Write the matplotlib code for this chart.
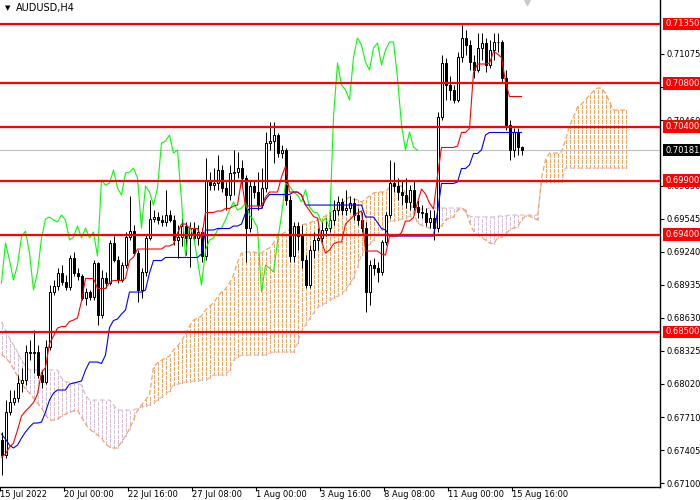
import matplotlib.pyplot as plt
import matplotlib.transforms as mtransforms
from matplotlib.collections import LineCollection
import numpy as np
import pandas as pd

# H4 candles, one per bar (oldest first)
opens = [0.67498, 0.67359, 0.67757, 0.67850, 0.67887, 0.68025, 0.68053, 0.68313, 0.68303, 0.68313,
         0.68100, 0.68035, 0.68359, 0.68868, 0.68924, 0.69044, 0.68961, 0.68914, 0.69183, 0.69044,
         0.69016, 0.68813, 0.68868, 0.68822, 0.69137, 0.68655, 0.68998, 0.68951, 0.69322, 0.69164,
         0.68979, 0.69118, 0.69377, 0.69433, 0.69229, 0.68887, 0.69053, 0.69368, 0.69544, 0.69563,
         0.69535, 0.69516, 0.69581, 0.69535, 0.69350, 0.69377, 0.69479, 0.69368, 0.69461, 0.69368,
         0.69424, 0.69201, 0.69905, 0.69859, 0.69877, 0.69998, 0.69831, 0.69766, 0.69970, 0.69979,
         0.70016, 0.69924, 0.69461, 0.69850, 0.69794, 0.69674, 0.69831, 0.70248, 0.70266, 0.70322,
         0.70155, 0.70183, 0.69720, 0.69201, 0.69479, 0.69387, 0.69164, 0.68933, 0.69257, 0.69350,
         0.69368, 0.69442, 0.69461, 0.69535, 0.69627, 0.69702, 0.69627, 0.69646, 0.69692, 0.69581,
         0.69535, 0.69461, 0.68868, 0.69118, 0.69090, 0.69053, 0.69331, 0.69581, 0.69877, 0.69850,
         0.69794, 0.69766, 0.69702, 0.69813, 0.69655, 0.69609, 0.69600, 0.69516, 0.69553, 0.69461,
         0.70489, 0.70989, 0.70785, 0.70739, 0.70646, 0.71044, 0.71220, 0.71155, 0.70998, 0.70924,
         0.71128, 0.71174, 0.70970, 0.71109, 0.71183, 0.71183, 0.70850, 0.70415, 0.70183, 0.70350,
         0.70211]
highs = [0.67572, 0.67868, 0.67961, 0.67961, 0.68100, 0.68164, 0.68377, 0.68424, 0.68516, 0.68377,
         0.68146, 0.68424, 0.68933, 0.68979, 0.69090, 0.69118, 0.69026, 0.69211, 0.69239, 0.69090,
         0.69035, 0.68905, 0.68887, 0.69164, 0.69146, 0.69072, 0.69053, 0.69350, 0.69387, 0.69201,
         0.69146, 0.69424, 0.69757, 0.69489, 0.69257, 0.69090, 0.69396, 0.69720, 0.69627, 0.69609,
         0.69581, 0.69813, 0.69627, 0.69581, 0.69489, 0.69553, 0.69516, 0.69516, 0.69516, 0.69489,
         0.69461, 0.70109, 0.69979, 0.70016, 0.70137, 0.70044, 0.69887, 0.70044, 0.70183, 0.70165,
         0.70090, 0.69952, 0.69905, 0.69905, 0.69979, 0.70016, 0.70350, 0.70442, 0.70442, 0.70340,
         0.70229, 0.70202, 0.69766, 0.69516, 0.69516, 0.69489, 0.69211, 0.69303, 0.69424, 0.69461,
         0.69516, 0.69553, 0.69609, 0.69720, 0.69757, 0.69739, 0.69813, 0.69757, 0.69739, 0.69646,
         0.69609, 0.69516, 0.69164, 0.69183, 0.69146, 0.69350, 0.69609, 0.70090, 0.70072, 0.69924,
         0.69905, 0.69924, 0.69859, 0.69905, 0.69720, 0.69674, 0.69646, 0.69627, 0.69627, 0.70535,
         0.71063, 0.71035, 0.70868, 0.70785, 0.71091, 0.71341, 0.71294, 0.71202, 0.71063, 0.71266,
         0.71266, 0.71220, 0.71202, 0.71266, 0.71266, 0.71202, 0.70924, 0.70461, 0.70387, 0.70387,
         0.70220]
lows = [0.67174, 0.67331, 0.67729, 0.67822, 0.67850, 0.67942, 0.68007, 0.68238, 0.68118, 0.68072,
        0.67979, 0.68016, 0.68331, 0.68840, 0.68887, 0.68933, 0.68887, 0.68887, 0.69016, 0.68979,
        0.68794, 0.68748, 0.68794, 0.68794, 0.68563, 0.68627, 0.68905, 0.68933, 0.69146, 0.68951,
        0.68961, 0.69090, 0.69350, 0.69211, 0.68776, 0.68813, 0.69016, 0.69350, 0.69516, 0.69498,
        0.69479, 0.69479, 0.69516, 0.69303, 0.69183, 0.69294, 0.69211, 0.69100, 0.69331, 0.69303,
        0.69146, 0.69164, 0.69813, 0.69813, 0.69813, 0.69794, 0.69627, 0.69720, 0.69766, 0.69924,
        0.69859, 0.69146, 0.69424, 0.69739, 0.69627, 0.69646, 0.69794, 0.70183, 0.70063, 0.70118,
        0.70109, 0.69674, 0.69146, 0.69146, 0.69257, 0.69090, 0.68905, 0.68905, 0.69183, 0.69257,
        0.69331, 0.69387, 0.69424, 0.69489, 0.69581, 0.69581, 0.69581, 0.69609, 0.69535, 0.69489,
        0.69424, 0.68683, 0.68748, 0.69026, 0.68961, 0.69026, 0.69303, 0.69553, 0.69794, 0.69720,
        0.69674, 0.69646, 0.69627, 0.69627, 0.69553, 0.69553, 0.69479, 0.69461, 0.69350, 0.69424,
        0.70461, 0.70646, 0.70646, 0.70618, 0.70628, 0.70998, 0.71063, 0.70924, 0.70850, 0.70905,
        0.71016, 0.70905, 0.70942, 0.71016, 0.71091, 0.70813, 0.70368, 0.70090, 0.70118, 0.70137,
        0.70137]
closes = [0.67359, 0.67757, 0.67850, 0.67887, 0.68025, 0.68053, 0.68313, 0.68303, 0.68313, 0.68100,
          0.68035, 0.68359, 0.68868, 0.68924, 0.69044, 0.68961, 0.68914, 0.69183, 0.69044, 0.69016,
          0.68813, 0.68868, 0.68822, 0.69137, 0.68655, 0.68998, 0.68951, 0.69322, 0.69164, 0.68979,
          0.69118, 0.69377, 0.69433, 0.69229, 0.68887, 0.69053, 0.69368, 0.69544, 0.69563, 0.69535,
          0.69516, 0.69581, 0.69535, 0.69350, 0.69377, 0.69479, 0.69368, 0.69461, 0.69368, 0.69424,
          0.69201, 0.69905, 0.69859, 0.69877, 0.69998, 0.69831, 0.69766, 0.69970, 0.69979, 0.70016,
          0.69924, 0.69461, 0.69850, 0.69794, 0.69674, 0.69831, 0.70248, 0.70266, 0.70322, 0.70155,
          0.70183, 0.69720, 0.69201, 0.69479, 0.69387, 0.69164, 0.68933, 0.69257, 0.69350, 0.69368,
          0.69442, 0.69461, 0.69535, 0.69627, 0.69702, 0.69627, 0.69646, 0.69692, 0.69581, 0.69535,
          0.69461, 0.68868, 0.69118, 0.69090, 0.69053, 0.69331, 0.69581, 0.69877, 0.69850, 0.69794,
          0.69766, 0.69702, 0.69813, 0.69655, 0.69609, 0.69600, 0.69516, 0.69553, 0.69461, 0.70489,
          0.70989, 0.70785, 0.70739, 0.70646, 0.71044, 0.71220, 0.71155, 0.70998, 0.70924, 0.71128,
          0.71174, 0.70970, 0.71109, 0.71183, 0.71183, 0.70850, 0.70415, 0.70183, 0.70350, 0.70211,
          0.70181]

# first bars of tenkan / kijun (their windows reach before the visible data)
tenkan_head = [0.67340, 0.67368, 0.67433, 0.67470, 0.67590, 0.67720, 0.67766, 0.67803]
kijun_head = [0.67553, 0.67507, 0.67451, 0.67424, 0.67451, 0.67516, 0.67572, 0.67618, 0.67655,
              0.67655, 0.67664, 0.67757, 0.67868, 0.67933, 0.67961, 0.67961, 0.67961, 0.68016,
              0.68025, 0.68035, 0.68044, 0.68146, 0.68220, 0.68220, 0.68220]

# Ichimoku cloud spans as drawn (already shifted 26 bars ahead)
span_a = [0.68294, 0.68257, 0.68220, 0.68155, 0.68090, 0.68025, 0.67970, 0.67933, 0.67887, 0.67840,
          0.67794, 0.67729, 0.67683, 0.67683, 0.67692, 0.67720, 0.67738, 0.67757, 0.67766, 0.67775,
          0.67711, 0.67646, 0.67600, 0.67572, 0.67544, 0.67516, 0.67461, 0.67433, 0.67424, 0.67424,
          0.67479, 0.67535, 0.67600, 0.67683, 0.67775, 0.67822, 0.67868, 0.67914, 0.68174, 0.68211,
          0.68238, 0.68257, 0.68275, 0.68331, 0.68368, 0.68414, 0.68479, 0.68553, 0.68609, 0.68627,
          0.68646, 0.68701, 0.68738, 0.68766, 0.68822, 0.68868, 0.68896, 0.68951, 0.69026, 0.69146,
          0.69229, 0.69239, 0.69239, 0.69239, 0.69229, 0.69229, 0.69257, 0.69276, 0.69322, 0.69387,
          0.69405, 0.69424, 0.69442, 0.69461, 0.69470, 0.69489, 0.69498, 0.69507, 0.69526, 0.69535,
          0.69553, 0.69572, 0.69600, 0.69618, 0.69646, 0.69683, 0.69720, 0.69748, 0.69729, 0.69720,
          0.69702, 0.69729, 0.69757, 0.69785, 0.69794, 0.69794, 0.69794, 0.69840, 0.69859, 0.69859,
          0.69850, 0.69785, 0.69720, 0.69609, 0.69507, 0.69489, 0.69470, 0.69461, 0.69461, 0.69470,
          0.69479, 0.69535, 0.69553, 0.69563, 0.69627, 0.69646, 0.69627, 0.69516, 0.69433, 0.69396,
          0.69377, 0.69350, 0.69322, 0.69313, 0.69368, 0.69377, 0.69405, 0.69442, 0.69461, 0.69470,
          0.69535, 0.69572, 0.69572, 0.69553, 0.69535, 0.69924, 0.70090, 0.70155, 0.70155, 0.70155,
          0.70165, 0.70276, 0.70405, 0.70489, 0.70581, 0.70609, 0.70646, 0.70692, 0.70729, 0.70757,
          0.70757, 0.70711, 0.70628, 0.70553, 0.70553, 0.70553, 0.70553]
span_b = [0.68590, 0.68516, 0.68442, 0.68377, 0.68313, 0.68238, 0.68183, 0.68146, 0.68146, 0.68146,
          0.68146, 0.68146, 0.68146, 0.68146, 0.68146, 0.68072, 0.68035, 0.68035, 0.68025, 0.68025,
          0.68007, 0.67914, 0.67868, 0.67868, 0.67868, 0.67868, 0.67868, 0.67868, 0.67822, 0.67775,
          0.67775, 0.67775, 0.67775, 0.67775, 0.67794, 0.67803, 0.67812, 0.67822, 0.67840, 0.67868,
          0.67896, 0.67924, 0.67951, 0.68007, 0.68016, 0.68025, 0.68035, 0.68035, 0.68044, 0.68044,
          0.68053, 0.68053, 0.68072, 0.68100, 0.68100, 0.68100, 0.68100, 0.68146, 0.68238, 0.68266,
          0.68285, 0.68285, 0.68285, 0.68285, 0.68285, 0.68285, 0.68285, 0.68303, 0.68313, 0.68313,
          0.68313, 0.68313, 0.68313, 0.68313, 0.68396, 0.68507, 0.68563, 0.68618, 0.68674, 0.68729,
          0.68748, 0.68766, 0.68794, 0.68813, 0.68831, 0.68850, 0.68887, 0.68942, 0.68998, 0.69100,
          0.69211, 0.69276, 0.69313, 0.69350, 0.69396, 0.69442, 0.69498, 0.69526, 0.69526, 0.69535,
          0.69544, 0.69553, 0.69572, 0.69600, 0.69627, 0.69637, 0.69637, 0.69646, 0.69646, 0.69646,
          0.69646, 0.69646, 0.69646, 0.69646, 0.69646, 0.69646, 0.69609, 0.69572, 0.69563, 0.69563,
          0.69563, 0.69563, 0.69563, 0.69563, 0.69572, 0.69572, 0.69572, 0.69581, 0.69581, 0.69581,
          0.69581, 0.69581, 0.69581, 0.69581, 0.69581, 0.69887, 0.69887, 0.69887, 0.69887, 0.69887,
          0.69887, 0.70016, 0.70016, 0.70016, 0.70016, 0.70016, 0.70016, 0.70016, 0.70016, 0.70016,
          0.70016, 0.70016, 0.70016, 0.70016, 0.70016, 0.70016, 0.70016]

# horizontal support / resistance levels and current bid
levels = [0.71350, 0.70800, 0.70400, 0.69900, 0.69400, 0.68500]
bid = 0.70181

price_ticks = [0.71075, 0.70770, 0.70460, 0.69850, 0.69545, 0.69240,
               0.68935, 0.68630, 0.68325, 0.68020, 0.67710, 0.67405, 0.67100]
date_labels = ['15 Jul 2022', '20 Jul 00:00', '22 Jul 16:00', '27 Jul 08:00', '1 Aug 00:00',
               '3 Aug 16:00', '8 Aug 08:00', '11 Aug 00:00', '15 Aug 16:00']

SHIFT = 26
ORANGE = '#F4A460'
THISTLE = '#D8BFD8'
DASH = (0, (4, 2))


def hatch(ax, xs, lo, hi, color):
    segs = [[(xi, y0), (xi, y1)] for xi, y0, y1 in zip(xs, lo, hi)]
    lc = LineCollection(segs, colors=color, linewidths=0.72, linestyles=[DASH],
                        antialiased=False, zorder=1)
    ax.add_collection(lc)


def main():
    plt.rcParams['font.family'] = ['DejaVu Sans']
    fig = plt.figure(figsize=(7, 5), dpi=100)
    ax = fig.add_axes([0, 13 / 500, 660 / 700, 487 / 500])

    o = np.array(opens)
    h = np.array(highs)
    l = np.array(lows)
    c = np.array(closes)
    x = np.arange(len(c))

    # tenkan (9) / kijun (26) midpoints; warm-up bars taken from the chart
    hs, ls = pd.Series(h), pd.Series(l)
    tenkan = ((hs.rolling(9).max() + ls.rolling(9).min()) / 2).to_numpy()
    kijun = ((hs.rolling(26).max() + ls.rolling(26).min()) / 2).to_numpy()
    tenkan[:len(tenkan_head)] = tenkan_head
    kijun[:len(kijun_head)] = kijun_head

    # cloud hatching: orange where span A is on top, thistle where span B is
    a = np.array(span_a)
    b = np.array(span_b)
    xc = np.arange(len(a))
    bull = a >= b
    lo, hi = np.minimum(a, b), np.maximum(a, b)
    hatch(ax, xc[bull], lo[bull], hi[bull], ORANGE)
    hatch(ax, xc[~bull], lo[~bull], hi[~bull], THISTLE)
    ax.plot(xc, b, color=THISTLE, lw=0.9, ls=DASH, zorder=1.2)
    ax.plot(xc, a, color=ORANGE, lw=0.9, ls=DASH, zorder=1.3)

    ax.axhline(bid, color='#C0C0C0', lw=0.8, zorder=1.5)

    # candles
    ax.vlines(x, l, h, color='black', lw=0.72, zorder=2)
    up = c >= o
    body = np.maximum(np.abs(c - o), 0.00002)
    ax.bar(x, body, bottom=np.minimum(o, c), width=0.5,
           color=np.where(up, 'white', 'black'), edgecolor='black', linewidth=0.72, zorder=3)

    # ichimoku lines
    ax.plot(x[SHIFT:] - SHIFT, c[SHIFT:], color='#00FF00', lw=0.8, zorder=4)
    ax.plot(x, kijun, color='#0000FF', lw=0.8, zorder=4)
    ax.plot(x, tenkan, color='#FF0000', lw=0.8, zorder=4)

    for lv in levels:
        ax.axhline(lv, color='#FF0000', lw=1.6, zorder=5)

    ax.set_xlim(-0.375, 164.625)
    ax.set_ylim(0.67063, 0.71572)

    for side in ['top', 'left']:
        ax.spines[side].set_visible(False)
    for side in ['right', 'bottom']:
        ax.spines[side].set_linewidth(1.0)

    ax.yaxis.tick_right()
    ax.set_yticks(price_ticks)
    ax.set_yticklabels([f'{t:.5f}' for t in price_ticks])
    ax.tick_params(axis='y', direction='out', length=3, width=0.8, labelsize=6, pad=1.5)

    xt = [16 * k - 0.375 for k in range(len(date_labels))]
    ax.set_xticks(xt)
    ax.set_xticklabels(date_labels, ha='left')
    ax.tick_params(axis='x', direction='out', length=3, width=0.8, labelsize=6, pad=-1)

    # price boxes on the right axis
    trans = mtransforms.blended_transform_factory(ax.transAxes, ax.transData)
    for lv in levels:
        ax.text(1 + 5 / 660, lv, f'{lv:.5f}', transform=trans, color='white', fontsize=6,
                va='center', ha='left', clip_on=False, zorder=6,
                bbox=dict(boxstyle='square,pad=0.2', fc='#FF0000', ec='none'))
    ax.text(1 + 5 / 660, bid, f'{bid:.5f}', transform=trans, color='white', fontsize=6,
            va='center', ha='left', clip_on=False, zorder=6,
            bbox=dict(boxstyle='square,pad=0.2', fc='black', ec='none'))

    # chart shift marker at the top
    ax.plot([len(c) + 0.25], [0.71572], marker='v', color='#C8C8C8', ms=7,
            clip_on=False, zorder=6)

    fig.text(5 / 700, 1 - 8 / 500, '\u25bc', fontsize=5, va='center', ha='left')
    fig.text(16 / 700, 1 - 8 / 500, 'AUDUSD,H4', fontsize=7, va='center', ha='left')

    fig.savefig('out.png', dpi=100)
    plt.close(fig)


if __name__ == '__main__':
    main()
